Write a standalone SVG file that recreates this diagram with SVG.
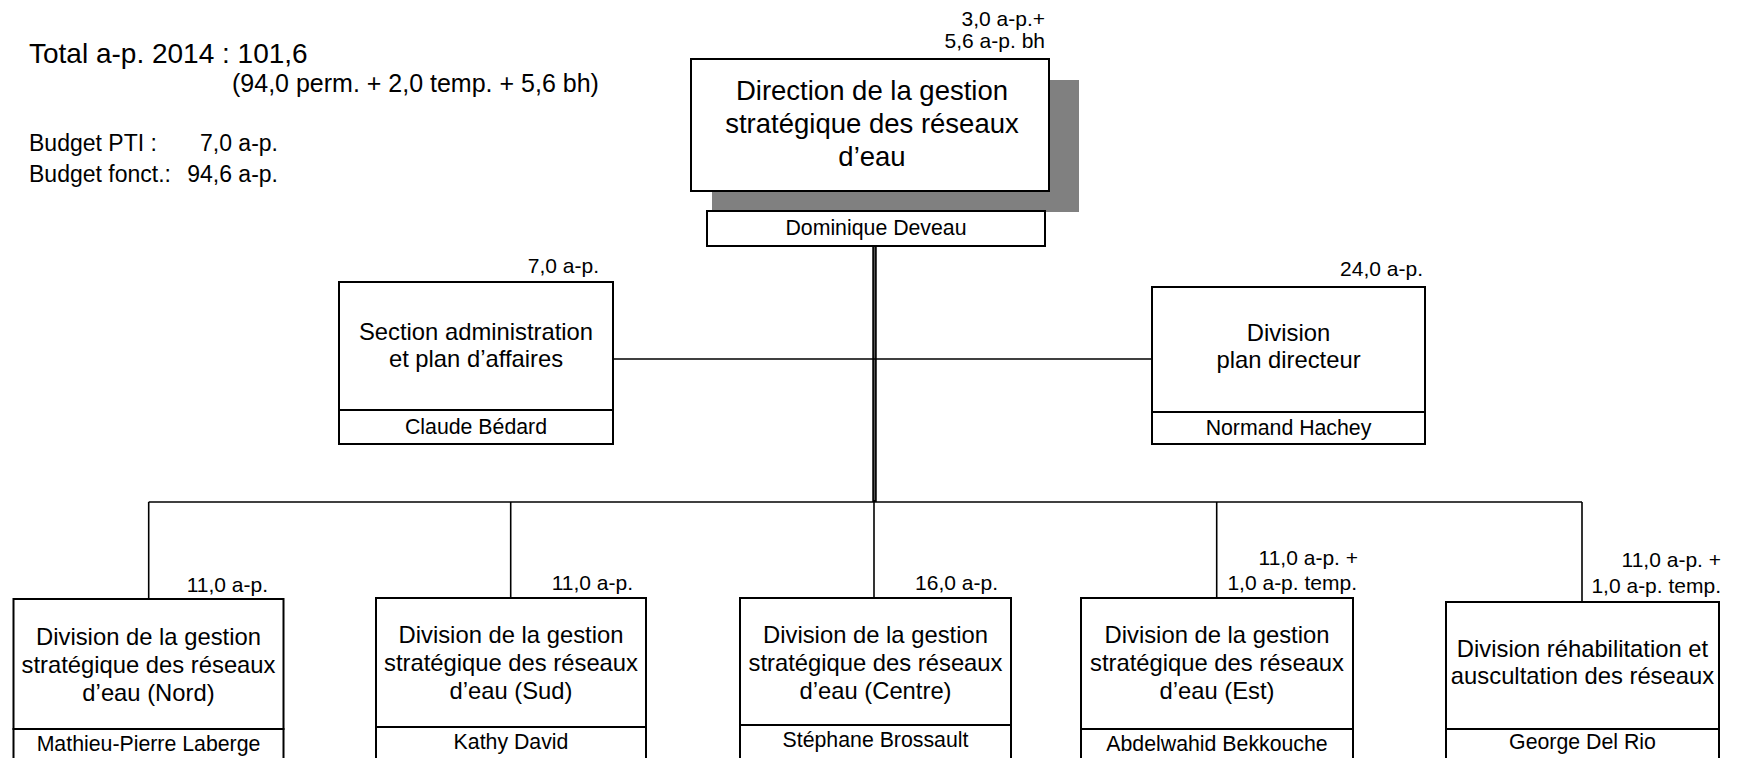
<svg xmlns="http://www.w3.org/2000/svg" width="1739" height="758" viewBox="0 0 1739 758">
<style>
.box{fill:#fff;stroke:#000;stroke-width:2}
.shadow{fill:#808080;stroke:none}
.conn{stroke:#000;stroke-width:1.6;fill:none}
.thick{stroke:#000;stroke-width:4.5;fill:none}
.core{stroke:#555;stroke-width:1.2;fill:none}
text{font-family:"Liberation Sans",Arial,sans-serif;fill:#000}
.bt{font-size:23.8px;text-anchor:middle}
.dt{font-size:27.5px;text-anchor:middle}
.nm{font-size:21.3px;text-anchor:middle}
.lb{font-size:21px;text-anchor:end}
.info{font-size:23px}
</style>
<rect width="1739" height="758" fill="#fff"/>
<g id="summary">
<text x="29" y="63" style="font-size:28px">Total a-p. 2014 : 101,6</text>
<text x="232" y="92" style="font-size:25px">(94,0 perm. + 2,0 temp. + 5,6 bh)</text>
<text class="info" x="29" y="151">Budget PTI :</text>
<text class="info" x="278" y="151" text-anchor="end">7,0 a-p.</text>
<text class="info" x="29" y="182">Budget fonct.:</text>
<text class="info" x="278" y="182" text-anchor="end">94,6 a-p.</text>
</g>
<g id="connectors">
<line class="thick" x1="874.5" y1="246" x2="874.5" y2="502"/>
<line class="core" x1="874.5" y1="247" x2="874.5" y2="500"/>
<line class="conn" x1="613" y1="359" x2="1152" y2="359"/>
<line class="conn" x1="148.7" y1="502" x2="1582" y2="502"/>
<line class="conn" x1="148.7" y1="502" x2="148.7" y2="599"/>
<line class="conn" x1="510.7" y1="502" x2="510.7" y2="598"/>
<line class="conn" x1="874" y1="502" x2="874" y2="598"/>
<line class="conn" x1="1216.7" y1="502" x2="1216.7" y2="598"/>
<line class="conn" x1="1582" y1="502" x2="1582" y2="602"/>
</g>
<g id="direction">
<rect class="shadow" x="712" y="80" width="367" height="132"/>
<rect class="box" x="691" y="59" width="358" height="132"/>
<text class="dt" x="872" y="100">Direction de la gestion</text>
<text class="dt" x="872" y="133">stratégique des réseaux</text>
<text class="dt" x="872" y="166">d’eau</text>
<rect class="box" x="707" y="211" width="338" height="35"/>
<text class="nm" x="876" y="235">Dominique Deveau</text>
<text class="lb" x="1045" y="26">3,0 a-p.+</text>
<text class="lb" x="1045" y="48">5,6 a-p. bh</text>
</g>
<g id="section-admin">
<rect class="box" x="339" y="282" width="274" height="128"/>
<text class="bt" x="476" y="340">Section administration</text>
<text class="bt" x="476" y="367">et plan d’affaires</text>
<rect class="box" x="339" y="410" width="274" height="34"/>
<text class="nm" x="476" y="434">Claude Bédard</text>
<text class="lb" x="599" y="273">7,0 a-p.</text>
</g>
<g id="plan-directeur">
<rect class="box" x="1152" y="287" width="273" height="125"/>
<text class="bt" x="1288.5" y="341">Division</text>
<text class="bt" x="1288.5" y="368">plan directeur</text>
<rect class="box" x="1152" y="412" width="273" height="32"/>
<text class="nm" x="1288.5" y="435">Normand Hachey</text>
<text class="lb" x="1423" y="276">24,0 a-p.</text>
</g>
<g id="nord">
<rect class="box" x="13.5" y="599" width="270" height="130"/>
<text class="bt" x="148.5" y="645">Division de la gestion</text>
<text class="bt" x="148.5" y="673">stratégique des réseaux</text>
<text class="bt" x="148.5" y="701">d’eau (Nord)</text>
<rect class="box" x="13.5" y="729" width="270" height="40"/>
<text class="nm" x="148.5" y="751">Mathieu-Pierre Laberge</text>
<text class="lb" x="268" y="592">11,0 a-p.</text>
</g>
<g id="sud">
<rect class="box" x="376" y="598" width="270" height="129"/>
<text class="bt" x="511" y="643">Division de la gestion</text>
<text class="bt" x="511" y="671">stratégique des réseaux</text>
<text class="bt" x="511" y="699">d’eau (Sud)</text>
<rect class="box" x="376" y="727" width="270" height="40"/>
<text class="nm" x="511" y="749">Kathy David</text>
<text class="lb" x="633" y="590">11,0 a-p.</text>
</g>
<g id="centre">
<rect class="box" x="740" y="598" width="271" height="127"/>
<text class="bt" x="875.5" y="643">Division de la gestion</text>
<text class="bt" x="875.5" y="671">stratégique des réseaux</text>
<text class="bt" x="875.5" y="699">d’eau (Centre)</text>
<rect class="box" x="740" y="725" width="271" height="40"/>
<text class="nm" x="875.5" y="747">Stéphane Brossault</text>
<text class="lb" x="998" y="590">16,0 a-p.</text>
</g>
<g id="est">
<rect class="box" x="1081" y="598" width="272" height="131"/>
<text class="bt" x="1217" y="643">Division de la gestion</text>
<text class="bt" x="1217" y="671">stratégique des réseaux</text>
<text class="bt" x="1217" y="699">d’eau (Est)</text>
<rect class="box" x="1081" y="729" width="272" height="40"/>
<text class="nm" x="1217" y="751">Abdelwahid Bekkouche</text>
<text class="lb" x="1358" y="565">11,0 a-p. +</text>
<text class="lb" x="1357" y="590">1,0 a-p. temp.</text>
</g>
<g id="rehabilitation">
<rect class="box" x="1446" y="602" width="273" height="127"/>
<text class="bt" x="1582.5" y="657">Division réhabilitation et</text>
<text class="bt" x="1582.5" y="684">auscultation des réseaux</text>
<rect class="box" x="1446" y="729" width="273" height="40"/>
<text class="nm" x="1582.5" y="749">George Del Rio</text>
<text class="lb" x="1721" y="567">11,0 a-p. +</text>
<text class="lb" x="1721" y="593">1,0 a-p. temp.</text>
</g>
</svg>
